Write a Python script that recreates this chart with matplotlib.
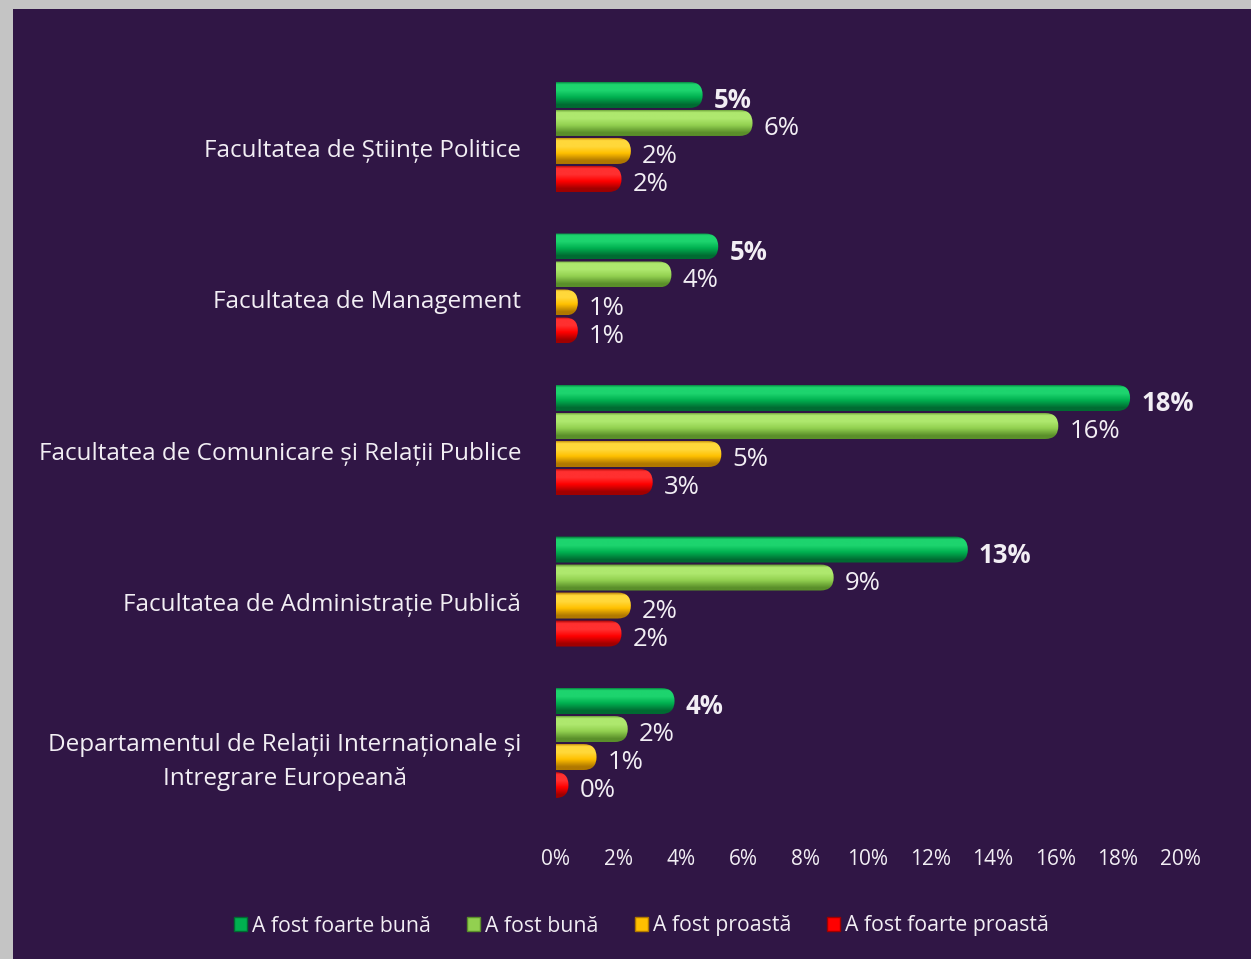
import numpy as np
import matplotlib
matplotlib.use("Agg")
import matplotlib.pyplot as plt
from matplotlib.colors import to_rgba
from matplotlib.patches import FancyBboxPatch, Patch, Rectangle

plt.rcParams['font.family'] = ['Open Sans', 'DejaVu Sans']

# data (percent of respondents)
faculties = [
    "Facultatea de Științe Politice",
    "Facultatea de Management",
    "Facultatea de Comunicare și Relații Publice",
    "Facultatea de Administrație Publică",
    "Departamentul de Relații Internaționale și\nIntregrare Europeană",
]
series = ["A fost foarte bună", "A fost bună", "A fost proastă", "A fost foarte proastă"]
foarte_buna = [4.7, 5.2, 18.4, 13.2, 3.8]
buna = [6.3, 3.7, 16.1, 8.9, 2.3]
proasta = [2.4, 0.7, 5.3, 2.4, 1.3]
foarte_proasta = [2.1, 0.7, 3.1, 2.1, 0.4]
xticks = [0, 2, 4, 6, 8, 10, 12, 14, 16, 18, 20]

values = [foarte_buna, buna, proasta, foarte_proasta]
colors = ["#00B050", "#92D050", "#FFC000", "#FF0000"]
dark = ["#006B32", "#5A8F2A", "#B07800", "#A00000"]
light = ["#1DD46E", "#AEE86E", "#FFD83A", "#FF3030"]

bg = "#301645"
txt = "#F2EEF4"


def shade(k, n=60):
    # vertical colour profile of a lit cylinder: dark rim, bright upper part, darker bottom
    t = np.linspace(0, 1, n)
    stops = [0.0, 0.12, 0.35, 0.6, 0.88, 1.0]
    cols = [dark[k], light[k], light[k], colors[k], dark[k], dark[k]]
    rgba = np.array([to_rgba(c) for c in cols])
    out = np.zeros((n, 1, 4))
    for i in range(4):
        out[:, 0, i] = np.interp(t, stops, rgba[:, i])
    return out


fig = plt.figure(figsize=(12.51, 9.59), dpi=100)
fig.patch.set_facecolor("#C4C4C4")
fig.patches.append(Rectangle((13 / 1251, 0), 1, 1 - 9 / 959, transform=fig.transFigure,
                             facecolor=bg, edgecolor="none", zorder=-10))

ax = fig.add_axes([556 / 1251, 1 - 830 / 959, 624 / 1251, 760 / 959])
ax.set_zorder(1)
ax.set_facecolor("none")

slot = 28 / 151.5
h = 26 / 151.5
aspect = (1 / 151.5) / (1 / 31.2)
r = 0.42

y = np.arange(len(faculties))
for k, (vals, c) in enumerate(zip(values, colors)):
    pos = y + (k - 1.5) * slot
    bars = ax.barh(pos, vals, height=h, color="none", label=series[k])
    grad = shade(k)
    for b, v in zip(bars, vals):
        x0, y0, w, hh = b.get_x(), b.get_y(), b.get_width(), b.get_height()
        body = FancyBboxPatch((x0 - r, y0), w + r, hh,
                              boxstyle=f"round,pad=0,rounding_size={r}",
                              mutation_aspect=aspect, fc="none", ec="none", zorder=2)
        ax.add_patch(body)
        im = ax.imshow(grad, extent=(x0 - r, x0 + w, y0 + hh, y0), origin="upper",
                       aspect="auto", interpolation="bilinear", zorder=2)
        im.set_clip_path(body)
        ax.annotate(f"{v:.0f}%", (w, b.get_y() + hh / 2), xytext=(8, -4),
                    textcoords="offset points", va="center", ha="left",
                    color=txt, fontsize=18.5,
                    fontweight="bold" if k == 0 else "normal", zorder=5)

ax.set_xlim(0, 20)
ax.set_ylim(4.574, -0.442)
ax.set_aspect("auto")
ax.set_yticks(y + 0.07)
ax.set_yticklabels(faculties, fontsize=17.5, color=txt, multialignment="center",
                   linespacing=1.55)
ax.set_xticks(xticks)
ax.set_xticklabels([f"{t}%" for t in xticks], fontsize=15, color=txt)
ax.tick_params(axis="y", length=0, pad=25)
ax.tick_params(axis="x", length=0, pad=14)
for s in ax.spines.values():
    s.set_visible(False)

handles = [Patch(facecolor=c, edgecolor=d, linewidth=1) for c, d in zip(colors, dark)]
fig.legend(handles, series, loc="center", bbox_to_anchor=(0.513, 1 - 926 / 959),
           ncol=4, frameon=False, fontsize=15.3, labelcolor=txt,
           handlelength=0.6, handleheight=0.6, handletextpad=0.25, columnspacing=1.7)

fig.savefig("out.png", dpi=100, facecolor=fig.get_facecolor())
